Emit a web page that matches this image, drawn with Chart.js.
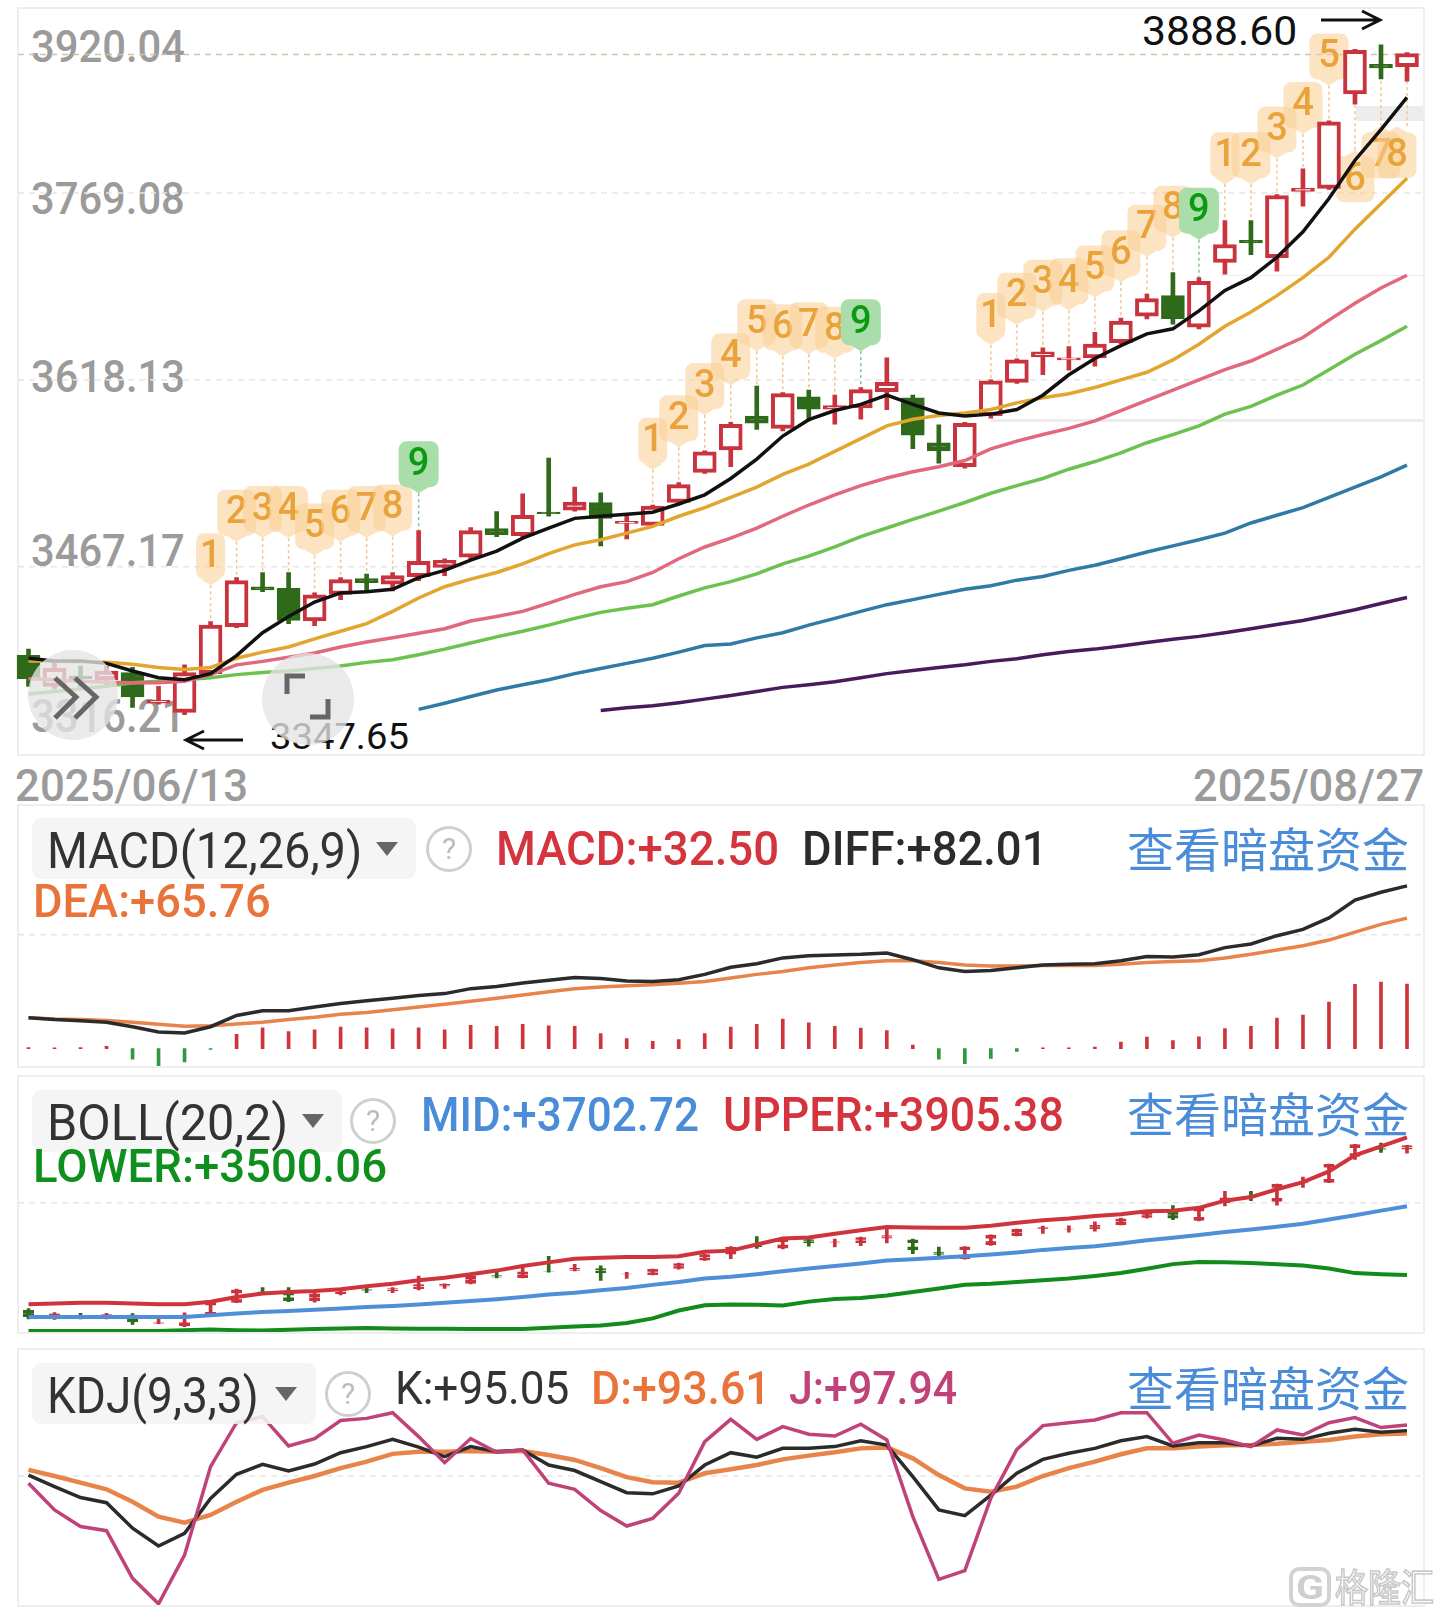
<!DOCTYPE html>
<html lang="zh">
<head>
<meta charset="utf-8">
<title>K线图</title>
<script src="https://cdn.jsdelivr.net/npm/chart.js@4/dist/chart.umd.js"></script>
<style>
  html, body { margin: 0; background: #fff; }
  #page { position: relative; width: 1440px; height: 1616px; overflow: hidden; background: #fff; font-family: Roboto, sans-serif; }
  #page canvas { position: absolute; left: 0; z-index: 2; }
  .frame { position: absolute; left: 17px; width: 1404px; border: 2px solid #eeeeee; }
  .txt { position: absolute; white-space: nowrap; line-height: 1; transform-origin: left top; }
  .chip { position: absolute; background: rgba(244,244,244,.88); border-radius: 9px; z-index: 3; }
  .tri { position: absolute; width: 0; height: 0; border-style: solid; border-color: #666 transparent transparent transparent; z-index: 4; }
  .ask { position: absolute; border: 3px solid #cfcfcf; border-radius: 50%; box-sizing: border-box; color: #bdbdbd; text-align: center; font-size: 30px; z-index: 4; }
  .smear { position: absolute; background: #ececec; }
  .bubble { position: absolute; border-radius: 50%; background: rgba(228,228,228,.78); z-index: 3; }
  svg { position: absolute; left: 0; top: 0; z-index: 4; }
</style>
</head>
<body>
<div id="page">
  <div class="smear" style="left:1356px;top:106px;width:67px;height:15px"></div>
  <div class="smear" style="left:991px;top:419px;width:432px;height:3px"></div>
  <div class="smear" style="left:1220px;top:275px;width:203px;height:1px"></div>
  <div class="frame" style="top:7px;height:745px"></div>
  <div class="frame" style="top:804px;height:260px"></div>
  <div class="frame" style="top:1075px;height:255px"></div>
  <div class="frame" style="top:1348px;height:255px"></div>
  <canvas id="mainChart" width="1440" height="760" style="top:0"></canvas>
  <canvas id="macdChart" width="1440" height="262" style="top:804px"></canvas>
  <canvas id="bollChart" width="1440" height="257" style="top:1075px"></canvas>
  <canvas id="kdjChart" width="1440" height="257" style="top:1348px"></canvas>
  <div class="bubble" style="left:28px;top:650px;width:90px;height:90px"></div>
  <div class="bubble" style="left:262px;top:653px;width:92px;height:92px"></div>
  <svg width="1440" height="1616" fill="none">
    <path d="M55 678 L76 697 L55 718 M75 678 L96 697 L75 718" stroke="#666" stroke-width="5"/>
    <path d="M305 676 L287 676 L287 694 M328 699 L328 717 L310 717" stroke="#666" stroke-width="5"/>
    <path d="M243 740 L186 740 M204 731 L186 740 L204 749" stroke="#111" stroke-width="3"/>
    <path d="M1321 20 L1380 20 M1362 11 L1380 20 L1362 29" stroke="#111" stroke-width="3"/>
    <rect x="1291" y="1569" width="38" height="36" rx="8" stroke="#d2d2d2" stroke-width="4"/>
  </svg>
</div>

<script>
// 日期
const dates = ['2025/06/13', '2025/08/27'];

// K线 开高低收,按交易日顺序
const opens = [3395.6,3370.5,3378.8,3375.9,3381.7,3356.9,3349.5,3380.8,3418.7,3451.0,3449.7,3423.3,3444.8,3457.6,3453.0,3459.2,3466.6,3474.9,3498.0,3492.2,3511.2,3512.9,3519.0,3502.1,3500.5,3519.0,3543.4,3561.5,3588.8,3578.9,3604.4,3594.5,3595.4,3608.6,3603.6,3567.3,3547.9,3589.2,3616.0,3636.6,3634.2,3635.8,3648.2,3669.6,3686.1,3660.6,3712.9,3730.7,3716.7,3770.3,3772.8,3849.1,3873.0,3871.0];
const closes = [3376.7,3385.0,3376.7,3382.9,3361.9,3359.4,3381.7,3420.0,3455.9,3448.5,3423.7,3444.4,3456.7,3454.3,3460.0,3471.6,3472.4,3496.3,3493.0,3508.7,3509.9,3519.4,3506.2,3503.8,3516.2,3533.5,3559.9,3582.2,3583.0,3606.9,3594.5,3597.4,3610.2,3616.0,3573.5,3560.7,3583.0,3617.2,3634.2,3640.8,3635.8,3646.9,3665.5,3683.7,3667.6,3697.7,3727.4,3728.6,3767.0,3772.8,3826.4,3884.2,3870.1,3881.7];
const highs = [3400.6,3389.1,3387.0,3387.0,3385.8,3370.5,3387.9,3422.9,3458.4,3462.5,3462.5,3446.0,3458.4,3461.3,3462.5,3496.3,3473.6,3498.8,3511.6,3526.1,3554.9,3531.4,3526.9,3507.9,3517.0,3535.1,3560.7,3583.8,3613.1,3607.8,3609.8,3605.7,3611.9,3635.8,3605.7,3581.8,3583.8,3618.1,3635.0,3644.0,3644.9,3656.4,3667.9,3687.4,3704.7,3700.6,3746.8,3746.8,3767.8,3788.5,3827.2,3885.0,3888.6,3882.5];
const lows = [3370.5,3368.5,3370.5,3370.5,3353.6,3356.1,3347.65,3378.8,3417.9,3446.9,3421.2,3419.6,3440.6,3447.7,3447.7,3455.9,3460.0,3473.6,3491.4,3491.4,3507.9,3512.0,3484.0,3489.7,3499.7,3517.0,3542.6,3547.9,3578.0,3576.8,3585.0,3582.2,3586.3,3594.1,3562.4,3550.8,3546.7,3587.1,3615.2,3622.2,3625.9,3629.2,3647.4,3667.2,3663.0,3659.3,3703.4,3719.1,3705.9,3758.3,3771.9,3840.8,3861.1,3859.4];

// 均线
const ma5 = [3393.2,3391.1,3391.1,3389.1,3382.9,3377.5,3375.9,3380.8,3395.3,3413.8,3427.0,3438.6,3446.0,3446.9,3448.9,3458.4,3464.2,3472.4,3479.8,3490.2,3498.4,3506.2,3507.9,3509.5,3511.2,3517.8,3525.2,3538.4,3554.1,3572.7,3585.9,3593.3,3598.3,3605.7,3598.3,3591.3,3588.8,3590.4,3594.1,3605.7,3622.2,3635.4,3645.7,3655.2,3659.3,3673.8,3690.3,3700.6,3717.1,3737.7,3764.5,3795.5,3820.2,3846.2];
const ma10 = [3391.1,3390.7,3390.3,3389.9,3388.3,3385.8,3384.1,3385.8,3393.2,3398.2,3402.3,3408.9,3415.0,3421.2,3431.1,3441.9,3451.0,3457.1,3462.5,3469.5,3477.8,3484.8,3488.9,3494.3,3499.7,3507.9,3514.9,3523.2,3531.4,3541.7,3550.0,3560.3,3570.6,3580.9,3586.3,3589.2,3591.3,3594.1,3599.5,3603.6,3606.9,3611.9,3618.1,3624.2,3634.2,3646.9,3661.4,3672.9,3686.1,3700.6,3717.1,3739.8,3760.4,3781.0];
const ma20 = [3376.7,3375.9,3374.6,3373.8,3373.4,3373.4,3374.6,3380.0,3387.9,3390.7,3394.1,3397.4,3402.3,3406.4,3409.7,3413.4,3417.1,3423.3,3427.0,3431.1,3437.7,3444.8,3451.0,3455.1,3462.5,3473.6,3483.1,3490.2,3498.4,3507.9,3517.0,3525.2,3532.7,3538.8,3543.8,3547.9,3552.9,3562.4,3568.6,3573.9,3578.9,3585.0,3593.3,3601.6,3609.8,3618.1,3626.3,3633.3,3642.8,3652.3,3666.3,3680.0,3692.3,3702.6];
const ma30 = [3364.3,3366.4,3368.5,3370.5,3373.4,3374.6,3375.9,3377.5,3380.0,3381.7,3382.9,3385.0,3387.0,3389.9,3392.0,3396.1,3400.6,3405.6,3410.5,3415.0,3420.0,3425.4,3430.3,3433.6,3436.5,3443.5,3450.1,3455.1,3461.3,3469.5,3475.7,3483.1,3491.4,3498.4,3505.4,3512.0,3519.0,3526.5,3532.7,3538.4,3545.9,3552.1,3559.1,3567.3,3573.9,3580.9,3590.4,3596.6,3605.7,3613.9,3626.3,3638.7,3649.8,3661.4];
const ma60 = [null,null,null,null,null,null,null,null,null,null,null,null,null,null,null,3351.9,3356.9,3362.3,3367.6,3371.8,3375.9,3380.8,3385.0,3389.1,3393.2,3398.2,3403.5,3404.8,3409.7,3413.8,3420.0,3425.4,3431.1,3436.5,3440.6,3444.8,3448.9,3451.8,3456.3,3459.2,3464.2,3468.3,3473.6,3479.0,3484.0,3488.9,3494.3,3502.5,3508.7,3514.9,3523.2,3531.4,3539.7,3549.2];
const ma120 = [null,null,null,null,null,null,null,null,null,null,null,null,null,null,null,null,null,null,null,null,null,null,3351.1,3353.2,3354.8,3357.3,3360.2,3363.1,3366.4,3369.7,3371.8,3374.2,3377.5,3380.8,3383.3,3385.8,3387.9,3390.7,3392.8,3396.1,3398.6,3400.6,3403.1,3406.0,3408.5,3410.9,3413.8,3417.1,3420.4,3423.7,3427.9,3432.4,3437.4,3442.3];

// 九转序列
const tdSeq = [null,null,null,null,null,null,null,1,2,3,4,5,6,7,8,9,null,null,null,null,null,null,null,null,1,2,3,4,5,6,7,8,9,null,null,null,null,1,2,3,4,5,6,7,8,9,1,2,3,4,5,6,7,8];
const tdPrice = [null,null,null,null,null,null,null,3476.5,3511.6,3514.5,3514.5,3500.5,3511.6,3514.5,3515.7,3550.8,null,null,null,null,null,null,null,null,3569.8,3587.9,3613.9,3637.9,3665.5,3661.4,3663.0,3659.3,3665.5,null,null,null,null,3670.4,3686.9,3697.3,3698.5,3708.8,3721.2,3741.8,3757.1,3755.5,3800.4,3800.4,3821.0,3840.9,3880.0,3781.0,3800.4,3800.4];

// MACD
const diff = [15.5,14.6,14.0,13.3,11.0,8.3,7.9,11.0,16.7,19.1,19.1,20.9,22.7,24.1,25.4,26.8,27.7,30.2,31.3,33.1,34.4,35.8,35.3,34.0,33.8,34.7,37.4,41.0,42.8,45.7,46.8,47.2,47.5,48.2,44.8,40.7,38.9,39.4,40.7,42.1,42.5,42.8,44.3,46.4,46.1,47.3,50.9,52.7,56.9,60.1,65.9,74.9,78.8,82.01];
const dea = [15.5,14.9,14.6,14.2,13.3,12.2,11.3,11.5,12.4,13.3,14.6,15.8,17.3,18.2,19.6,20.9,22.3,23.9,25.4,27.0,28.6,30.1,31.0,31.7,32.2,32.9,33.8,35.6,37.4,38.9,40.7,42.1,43.4,44.3,44.3,43.4,42.1,41.6,41.6,41.9,41.9,41.9,42.5,43.4,43.9,44.3,45.7,47.5,49.7,51.8,54.7,58.7,62.6,65.76];
const macdHist = [0.5,0.4,0.5,1.1,-5.4,-8.6,-6.8,-0.5,7.2,10.4,8.5,9.4,10.8,10.4,9.9,10.4,9.4,11.7,11.2,12.2,11.5,11.2,7.6,5.0,3.6,4.5,7.6,10.8,12.2,14.8,13.0,11.2,10.3,9.0,1.8,-5.4,-7.6,-5.0,-1.4,0.4,0.4,0.7,3.2,5.8,4.0,5.9,10.1,11.2,15.3,16.9,23.4,32.4,33.5,32.5];

// BOLL
const bollUpper = [3413.8,3415.9,3418.0,3418.0,3415.9,3413.8,3413.8,3421.1,3434.8,3445.3,3449.5,3452.7,3457.9,3466.4,3473.7,3484.2,3491.6,3502.1,3512.7,3526.4,3536.9,3547.4,3550.6,3552.7,3552.7,3554.8,3568.5,3571.6,3589.5,3607.4,3610.6,3621.1,3631.6,3641.1,3640.0,3639.0,3639.0,3645.3,3653.7,3661.1,3666.4,3673.7,3679.0,3687.4,3689.5,3697.9,3719.0,3729.5,3752.7,3773.8,3805.4,3852.8,3879.1,3905.38];
const bollMid = [3375.9,3375.9,3375.9,3375.9,3375.9,3375.9,3375.9,3381.1,3386.4,3390.6,3393.8,3396.9,3401.2,3405.4,3408.5,3412.7,3418.0,3423.2,3428.5,3434.8,3442.2,3447.4,3454.8,3461.1,3470.6,3479.0,3489.6,3494.8,3502.1,3510.6,3519.0,3526.4,3533.7,3542.2,3546.4,3550.6,3554.8,3560.1,3566.4,3573.8,3579.0,3584.3,3592.7,3602.2,3609.5,3617.9,3626.4,3633.7,3642.2,3650.6,3663.2,3675.8,3689.5,3702.72];
const bollLower = [3334.8,3334.8,3334.8,3334.8,3334.8,3334.8,3336.9,3339.0,3336.9,3335.9,3338.0,3340.1,3342.2,3343.3,3342.2,3341.2,3341.2,3340.1,3340.1,3340.1,3344.3,3347.5,3350.7,3358.0,3371.7,3394.9,3410.7,3412.8,3411.8,3409.7,3421.2,3428.6,3431.8,3439.1,3449.7,3460.2,3470.7,3473.9,3479.2,3484.4,3489.7,3497.1,3505.5,3518.1,3531.8,3538.1,3537.0,3534.9,3531.6,3527.4,3519.0,3505.3,3502.1,3500.06];

// KDJ
const kdjK = [72.4,66.5,60.9,58.3,45.3,36.2,42.7,60.5,72.8,77.9,74.5,78.0,83.8,86.9,90.6,86.6,81.8,86.9,84.3,85.2,77.5,74.7,69.0,63.4,62.8,66.8,77.5,83.8,81.5,86.0,86.0,86.9,89.9,87.7,71.6,54.6,51.7,62.2,73.3,80.4,83.5,86.0,89.9,92.0,87.2,88.9,88.9,87.2,91.1,90.6,93.7,95.7,94.2,95.05];
const kdjD = [75.0,71.9,68.5,65.1,58.8,51.2,48.1,52.0,58.8,64.8,68.5,71.9,75.9,79.2,83.2,84.3,84.3,84.7,84.3,84.7,82.6,80.1,75.9,71.3,68.7,68.5,73.3,75.3,77.5,80.4,82.3,84.0,86.0,86.5,80.9,72.4,65.6,63.9,66.5,71.9,75.9,79.2,83.0,86.0,86.0,86.9,87.6,87.7,88.3,89.4,90.3,92.0,93.2,93.61];
const kdjJ = [68.2,54.6,46.1,44.0,19.7,6.7,31.6,76.7,99.1,102.2,87.2,91.0,100.2,101.3,104.2,92.0,78.7,91.0,84.0,85.2,68.2,65.1,54.3,46.4,50.3,63.1,89.4,100.8,90.6,97.1,93.2,92.3,98.3,90.3,51.2,19.2,23.6,60.6,85.5,97.6,99.1,100.5,104.2,104.2,88.6,92.8,90.3,86.9,95.4,92.8,99.1,101.7,96.6,97.94];

// 坐标轴刻度
const priceTicks = [3769.08, 3618.13, 3467.17];
const macdTicks = [57.4];
const bollTicks = [3712.7];
const kdjTicks = [71.9];

const labels = opens.map((_, i) => String(i));
const RED = '#c9333d';
const DARK_GREEN = '#2f6a1b';
const isUp = i => closes[i] >= opens[i];

function lineDs(data, color, order, width = 3.5) {
    return { type: 'line', data, borderColor: color, borderWidth: width, pointRadius: 0, tension: 0, order, spanGaps: false };
}

// 主图蜡烛 = 影线一组 + 空心实体一组
function candleDs() {
    return [
        {
            data: lows.map((l, i) => [l, highs[i]]),
            backgroundColor: labels.map((_, i) => isUp(i) ? RED : DARK_GREEN),
            barThickness: 4, grouped: false, order: 21
        },
        {
            data: opens.map((o, i) => [o, closes[i]]),
            backgroundColor: labels.map((_, i) => isUp(i) ? '#fff' : DARK_GREEN),
            borderColor: labels.map((_, i) => isUp(i) ? RED : DARK_GREEN),
            borderWidth: 4, borderSkipped: false,
            barThickness: 23, grouped: false, order: 20
        }
    ];
}

// BOLL 里的小蜡烛:一根竖线,实体只剩上下两条短横
function miniCandleDs() {
    return [
        {
            data: lows.map((l, i) => [l, highs[i]]),
            backgroundColor: labels.map((_, i) => isUp(i) ? RED : DARK_GREEN),
            barThickness: 3, grouped: false, order: 21
        },
        {
            data: opens.map((o, i) => [o, closes[i]]),
            backgroundColor: 'rgba(0,0,0,0)',
            borderColor: labels.map((_, i) => isUp(i) ? RED : DARK_GREEN),
            borderWidth: { top: 3, bottom: 3, left: 0, right: 0 }, borderSkipped: false,
            barThickness: 11, grouped: false, order: 20
        }
    ];
}

const dashGrid = {
    id: 'dashGrid',
    beforeDatasetsDraw(chart, args, opts) {
        const ctx = chart.ctx;
        ctx.save();
        ctx.lineWidth = 1.5;
        ctx.setLineDash([6, 5]);
        ctx.strokeStyle = '#e6e6e6';
        opts.values.forEach(v => {
            const y = chart.scales.y.getPixelForValue(v);
            ctx.beginPath(); ctx.moveTo(18, y); ctx.lineTo(1422, y); ctx.stroke();
        });
        if (opts.lastPrice) {
            const y = chart.scales.y.getPixelForValue(opts.lastPrice);
            ctx.strokeStyle = '#cfc5a6';
            ctx.beginPath(); ctx.moveTo(18, y + 1); ctx.lineTo(1422, y + 1); ctx.stroke();
        }
        ctx.restore();
    }
};

// 九转标记,画在K线下面
const tdBadges = {
    id: 'tdBadges',
    beforeDatasetsDraw(chart) {
        const ctx = chart.ctx, xs = chart.scales.x, ys = chart.scales.y;
        ctx.save();
        tdSeq.forEach((n, i) => {
            if (n === null) return;
            const x0 = xs.getPixelForValue(i), y = ys.getPixelForValue(tdPrice[i]) + 1;
            const x = i === tdSeq.length - 1 ? x0 - 10 : x0; // 最后一个贴着右边,往里挤
            const below = tdPrice[i] < lows[i];
            const nine = n === 9;
            const w = nine ? 40 : (n === 1 ? 29 : 39), h = 46;
            const edge = below ? y - h / 2 - 6 : y + h / 2 + 6;
            const target = below ? ys.getPixelForValue(lows[i]) : ys.getPixelForValue(highs[i]);
            ctx.setLineDash([3, 3]);
            ctx.lineWidth = 1.5;
            ctx.strokeStyle = nine ? '#8fbf8f' : '#efc78e';
            ctx.beginPath(); ctx.moveTo(x0, edge); ctx.lineTo(x0, target); ctx.stroke();
            ctx.setLineDash([]);
            ctx.fillStyle = nine ? '#a9dda9' : 'rgba(250,205,145,.55)';
            ctx.beginPath();
            ctx.roundRect(x - w / 2, y - h / 2, w, h, 8);
            ctx.moveTo(x - 10, below ? y - h / 2 : y + h / 2);
            ctx.lineTo(x, edge);
            ctx.lineTo(x + 10, below ? y - h / 2 : y + h / 2);
            ctx.fill();
            ctx.fillStyle = nine ? '#0b9a12' : '#e9a33a';
            ctx.font = '500 38px Roboto';
            ctx.textAlign = 'center';
            ctx.textBaseline = 'middle';
            ctx.fillText(String(n), x, y + 1);
        });
        ctx.restore();
    }
};

function makeChart(id, datasets, min, max, padTop, padBottom, gridOpts, plugins) {
    return new Chart(document.getElementById(id), {
        type: 'bar',
        data: { labels, datasets },
        options: {
            responsive: false,
            animation: false,
            events: [],
            layout: { padding: { left: 15.5, right: 20, top: padTop, bottom: padBottom } },
            scales: {
                x: { display: false, offset: true },
                y: { display: false, min, max }
            },
            plugins: { legend: { display: false }, tooltip: { enabled: false }, dashGrid: gridOpts }
        },
        plugins: [dashGrid].concat(plugins || [])
    });
}

makeChart('mainChart', [
    lineDs(ma5, '#111111', 1),
    lineDs(ma10, '#e2a52e', 2),
    lineDs(ma20, '#e2687c', 3),
    lineDs(ma30, '#6cc24f', 4),
    lineDs(ma60, '#2f7ba6', 5),
    lineDs(ma120, '#4a1a5c', 6),
    ...candleDs()
], 3316.21, 3920.04, 6, 6.4, { values: priceTicks, lastPrice: closes[closes.length - 1] }, [tdBadges]);

makeChart('macdChart', [
    lineDs(diff, '#2b2b2b', 1),
    lineDs(dea, '#e8834a', 2),
    {
        data: macdHist,
        backgroundColor: macdHist.map(v => v >= 0 ? '#cf343d' : '#2f9a3c'),
        barThickness: 3, order: 10
    }
], -8.8, 123.3, 0, 0, { values: macdTicks });

makeChart('bollChart', [
    lineDs(bollUpper, '#cf343d', 1, 4),
    lineDs(bollMid, '#4f8fd8', 2, 4),
    lineDs(bollLower, '#118c1c', 3, 4),
    ...miniCandleDs()
], 3331.6, 4089.6, 0, 0, { values: bollTicks });

makeChart('kdjChart', [
    lineDs(kdjK, '#2b2b2b', 2),
    lineDs(kdjD, '#e8834a', 3, 4.5),
    lineDs(kdjJ, '#bf4378', 1)
], 6.1, 137.2, 0, 0, { values: kdjTicks });

// 文字 ------------------------------------------------------------
const page = document.getElementById('page');

function addText(text, x, capTop, w, capH, color, z = 4, weight = 500) {
    const el = document.createElement('span');
    const size = capH / 0.711;
    el.className = 'txt';
    el.textContent = text;
    el.style.cssText = `left:${x - 2}px;top:${capTop - 0.13 * size}px;font-size:${size}px;color:${color};font-weight:${weight};z-index:${z}`;
    page.appendChild(el);
    el.style.transform = `scaleX(${(w + 4) / el.offsetWidth})`;
}

function addLink(top) {
    const el = document.createElement('span');
    el.className = 'txt';
    el.textContent = '查看暗盘资金';
    el.style.cssText = `left:1127px;top:${top - 1}px;font-size:47px;color:#4a8cd8;font-family:"Noto Sans CJK SC";z-index:4`;
    page.appendChild(el);
}

function addChip(name, left, top, width, height, textW, triX, askX) {
    const chip = document.createElement('div');
    chip.className = 'chip';
    chip.style.cssText = `left:${left}px;top:${top}px;width:${width}px;height:${height}px`;
    page.appendChild(chip);
    addText(name, 49, top + 15, textW, 35, '#333333', 4, 400);
    const tri = document.createElement('div');
    tri.className = 'tri';
    tri.style.cssText = `left:${triX}px;top:${top + 24}px;border-width:14px 11px 0 11px`;
    page.appendChild(tri);
    const ask = document.createElement('div');
    ask.className = 'ask';
    ask.textContent = '?';
    ask.style.cssText = `left:${askX}px;top:${top + 8}px;width:46px;height:46px;line-height:40px`;
    page.appendChild(ask);
}

const GREY = '#9b9b9b';
addText('3920.04', 33, 30, 150, 32, GREY, 1);
addText('3769.08', 33, 184, 150, 31, GREY, 1);
addText('3618.13', 33, 360, 150, 32, GREY, 1);
addText('3467.17', 33, 536, 150, 31, GREY, 1);
addText('3316.21', 33, 699, 150, 33, GREY, 1);
addText('3347.65', 272, 724, 135, 26, '#111111', 1, 400);
addText('3888.60', 1144, 16, 151, 29, '#111111', 1, 400);
addText(dates[0], 17, 771, 229, 31, GREY, 1);
addText(dates[1], 1195, 771, 227, 31, GREY, 1);

addChip('MACD(12,26,9)', 32, 818, 384, 61, 311, 376, 426);
addText('MACD:+32.50', 498, 832, 279, 34, '#d4343d');
addText('DIFF:+82.01', 804, 832, 241, 34, '#2b2b2b');
addText('DEA:+65.76', 35, 884, 234, 33, '#e8743b');
addLink(824);

addChip('BOLL(20,2)', 32, 1090, 310, 62, 237, 302, 350);
addText('MID:+3702.72', 423, 1098, 274, 34, '#4a8cd8');
addText('UPPER:+3905.38', 725, 1098, 337, 34, '#d4343d');
addText('LOWER:+3500.06', 35, 1149, 350, 33, '#0e8f1e');
addLink(1089);

addChip('KDJ(9,3,3)', 32, 1363, 284, 61, 208, 275, 325);
addText('K:+95.05', 397, 1371, 170, 33, '#333333', 4, 400);
addText('D:+93.61', 593, 1371, 176, 33, '#e8743b');
addText('J:+97.94', 791, 1371, 164, 33, '#bf4378');
addLink(1363);

// 水印
addText('G', 1298, 1575, 24, 24, '#cfcfcf', 4, 700);
const mark = document.createElement('span');
mark.className = 'txt';
mark.textContent = '格隆汇';
mark.style.cssText = 'left:1335px;top:1566px;font-size:33px;color:#fff;-webkit-text-stroke:1.5px #c9c9c9;font-family:"Noto Sans CJK SC";z-index:4';
mark.style.transform = 'scaleY(1.15)';
page.appendChild(mark);
</script>
</body>
</html>
